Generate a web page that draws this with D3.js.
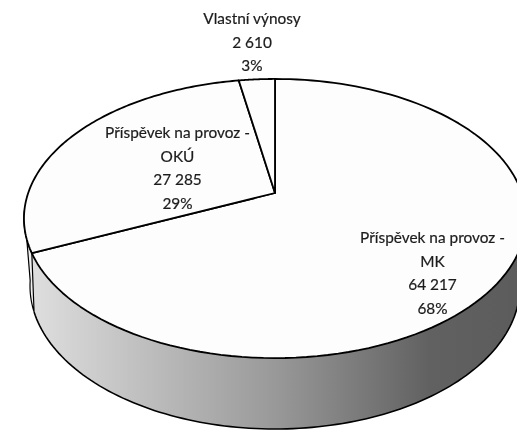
<!DOCTYPE html>
<html>
<head>
<meta charset="utf-8">
<script src="https://d3js.org/d3.v7.min.js"></script>
<style>
  html, body { margin: 0; background: #fff; }
  svg { display: block; }
  text { font-family: Lato, "Open Sans", sans-serif; font-size: 15.4px; fill: #1c1c1c; stroke: #1c1c1c; stroke-width: 0.2; }
</style>
</head>
<body>
<svg id="viz" width="517" height="430"></svg>
<script>
var categories = ["Příspěvek na provoz - MK", "Příspěvek na provoz - OKÚ", "Vlastní výnosy"];
var values = [64217, 27285, 2610];
var valueLabels = ["64 217", "27 285", "2 610"];
var percents = ["68%", "29%", "3%"];
var labelLines = [
  ["Příspěvek na provoz -", "MK"],
  ["Příspěvek na provoz -", "OKÚ"],
  ["Vlastní výnosy"]
];

var svg = d3.select("#viz");
var cx = 275, cy = 193;   // apex of the pie
var R = 246.8, squash = 134.9, persp = 0.183;

// the pie is tilted in perspective, so the circle is projected by hand
function project(a) {
  var x = Math.sin(a), y = -Math.cos(a), w = 1 - persp * y;
  return [cx + R * x / w, cy + squash * y / w];
}

// bottom rim of the wall
function projectBottom(a) {
  return [cx + 245 * Math.sin(a), 286 - 143 * Math.cos(a)];
}

var pie = d3.pie().sort(null);
var arcs = pie(values);
var line = d3.line();

function rim(a0, a1, f) {
  return d3.range(0, 121).map(function(i) { return f(a0 + (a1 - a0) * i / 120); });
}

var defs = svg.append("defs");
var grad = defs.append("linearGradient")
  .attr("id", "wall").attr("gradientUnits", "userSpaceOnUse")
  .attr("x1", 33).attr("x2", 517).attr("y1", 0).attr("y2", 0);
grad.append("stop").attr("offset", 0).attr("stop-color", "#dedede");
grad.append("stop").attr("offset", 0.5).attr("stop-color", "#999999");
grad.append("stop").attr("offset", 0.82).attr("stop-color", "#616161");
grad.append("stop").attr("offset", 1).attr("stop-color", "#5c5c5c");
defs.append("filter").attr("id", "soft")
  .append("feGaussianBlur").attr("stdDeviation", 0.35);

// wall of the first slice, front part only
var wallEnd = arcs[0].endAngle;
var wallStart = 1.45;
var wallBottomEnd = 4.53;
svg.append("path")
  .attr("d", line(rim(wallStart, wallEnd, project).concat(rim(wallBottomEnd, wallStart, projectBottom))) + "Z")
  .attr("fill", "url(#wall)");

// small piece of wall of the second slice at the left
var leftEnd = arcs[1].startAngle + 0.3;
svg.append("path")
  .attr("d", line(rim(arcs[1].startAngle, leftEnd, project)
    .concat(rim(4.75, wallBottomEnd, projectBottom))) + "Z")
  .attr("fill", "#f0f0f0")
  .attr("stroke", "#000").attr("stroke-width", 1.2);

svg.append("path")
  .attr("d", line(rim(wallStart, wallBottomEnd, projectBottom)))
  .attr("fill", "none").attr("stroke", "#000").attr("stroke-width", 1.6);

// top faces
arcs.forEach(function(d) {
  var pts = [[cx, cy]].concat(rim(d.startAngle, d.endAngle, project));
  svg.append("path")
    .attr("d", line(pts) + "Z")
    .attr("fill", "#fdfdfd")
    .attr("stroke", "#000")
    .attr("stroke-width", 1.8)
    .attr("stroke-linejoin", "round");
});

// labels
var labelPos = [[432.5, 243], [177.5, 138], [252, 24]];
var lineGap = 23.5;
arcs.forEach(function(d, i) {
  var rows = labelLines[i].concat([valueLabels[i], percents[i]]);
  svg.selectAll(null)
    .data(rows)
    .enter()
    .append("text")
      .attr("x", labelPos[i][0])
      .attr("y", function(t, j) { return labelPos[i][1] + j * lineGap; })
      .attr("text-anchor", "middle")
      .attr("filter", "url(#soft)")
      .text(function(t) { return t; });
});
</script>
</body>
</html>
